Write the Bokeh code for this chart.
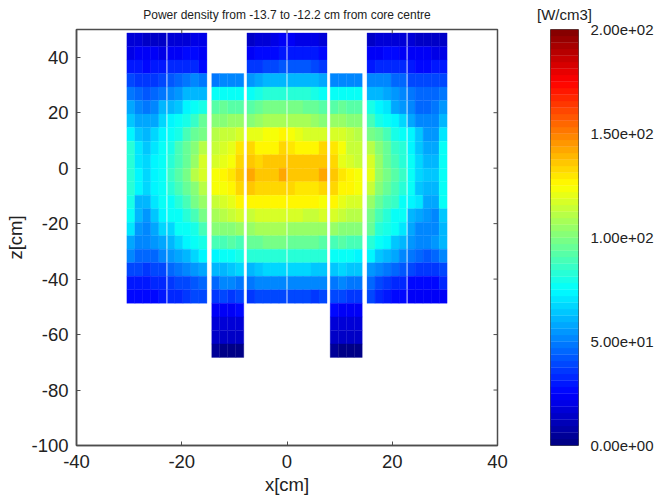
from bokeh.plotting import figure
from bokeh.layouts import row
from bokeh.models import (ColumnDataSource, LinearColorMapper, FixedTicker, LinearAxis,
                          PrintfTickFormatter, Range1d, Title)
from bokeh.embed import file_html
from bokeh.resources import INLINE
import numpy as np

# Power density [W/cm3], rows top to bottom, columns left to right
left_block = [
 [16,16,15,15,15,18,18,18,19,19],
 [21,22,22,22,21,23,24,26,26,24],
 [29,30,27,30,31,32,34,34,33,28],
 [38,37,36,37,38,42,44,48,50,48],
 [48,46,42,44,48,52,56,60,62,60],
 [58,50,48,52,60,60,65,72,76,80],
 [65,58,58,58,66,72,75,80,85,95],
 [72,64,62,68,72,76,80,88,94,98],
 [82,70,64,70,75,80,88,94,100,112],
 [84,71,66,72,76,83,90,95,106,116],
 [84,72,67,72,78,85,92,98,110,118],
 [84,72,68,72,77,83,90,96,103,112],
 [80,62,60,70,75,78,83,90,98,106],
 [75,60,54,64,72,75,78,83,90,99],
 [70,56,52,58,68,66,75,76,80,90],
 [58,52,50,54,58,60,66,72,76,80],
 [50,46,44,46,50,54,58,62,68,72],
 [40,38,36,38,40,44,48,50,56,58],
 [31,30,29,32,34,36,38,40,42,46],
 [25,26,26,27,30,32,33,35,38,40],
]
center_block = [
 [15,17,18,20,22,22,21,21,20,17],
 [24,26,27,28,29,30,30,30,30,25],
 [36,36,38,40,41,42,42,42,38,36],
 [56,58,60,62,62,62,62,62,60,58],
 [78,80,82,82,82,82,82,82,80,78],
 [92,95,98,98,98,98,98,96,95,92],
 [102,106,108,108,108,108,108,108,106,102],
 [120,120,122,124,125,122,120,118,116,118],
 [133,128,128,127,132,130,127,127,128,133],
 [136,133,137,137,137,137,137,137,136,135],
 [141,136,136,136,141,137,137,137,136,141],
 [136,132,134,133,132,132,130,130,130,133],
 [127,125,125,125,127,127,126,125,125,124],
 [114,116,116,116,118,118,116,114,114,116],
 [106,107,108,107,107,106,106,106,106,106],
 [94,96,97,98,98,96,96,96,94,92],
 [82,82,84,84,84,82,82,82,84,84],
 [62,65,66,66,68,66,66,66,64,64],
 [48,50,50,50,50,50,50,50,50,50],
 [36,38,38,38,40,40,38,38,36,38],
]
right_block = [
 [14,16,17,17,17,16,15,14,13,13],
 [24,24,25,25,24,23,22,22,21,21],
 [30,33,34,34,33,30,28,28,30,30],
 [50,52,50,46,44,40,38,38,38,38],
 [60,62,58,56,52,48,46,44,44,48],
 [80,74,70,58,56,52,46,44,47,55],
 [90,80,75,72,68,58,52,50,52,62],
 [98,94,88,80,75,72,64,56,56,71],
 [110,100,96,85,83,74,64,58,58,76],
 [116,104,96,90,83,76,68,62,62,78],
 [119,106,98,92,85,75,68,64,64,78],
 [114,100,94,90,83,75,64,60,62,78],
 [106,96,90,85,78,72,71,58,58,76],
 [98,88,83,77,75,62,58,56,50,65],
 [94,83,80,75,70,58,52,50,50,62],
 [84,76,74,64,60,54,50,50,54,60],
 [72,64,60,58,52,48,44,42,44,52],
 [56,50,48,46,42,38,36,36,36,40],
 [44,38,36,34,32,28,28,26,28,32],
 [38,32,30,28,26,24,24,24,24,24],
]
short_left = [
 [48,50,50,50],[76,78,78,76],[92,94,92,92],[100,102,104,104],[112,113,115,118],
 [115,117,120,130],[116,119,122,134],[124,125,130,137],[122,123,126,133],[115,116,119,127],
 [108,110,114,118],[100,102,103,104],[88,90,92,90],[74,75,76,80],[62,62,64,66],
 [46,50,50,48],[36,38,36,38],[22,22,23,26],[18,18,18,18],[14,14,14,14],[4,3,3,3],
]
short_right = [
 [52,50,50,50],[76,78,76,76],[92,94,92,92],[106,104,102,100],[118,116,113,110],
 [131,122,115,113],[134,121,116,115],[137,129,126,124],[132,127,125,122],[127,121,118,116],
 [116,114,112,110],[104,102,100,100],[90,92,90,88],[76,76,76,74],[64,66,64,64],
 [48,50,48,48],[38,38,36,36],[26,24,24,24],[18,18,18,18],[14,14,14,14],[4,3,3,3],
]
x_ticks = [-40, -20, 0, 20, 40]
z_ticks = [-100, -80, -60, -40, -20, 0, 20, 40]
bar_ticks = [0, 50, 100, 150, 200]
bar_labels = ["0.00e+00", "5.00e+01", "1.00e+02", "1.50e+02", "2.00e+02"]

# geometry
CELL_W, CELL_H, Z_TOP = 1.5216, 4.875, 48.75
GAP = 0.22


def jet(n):
    t = (np.arange(n) + 0.5) / n
    def ch(c):
        return np.clip(1.5 - np.abs(4 * t - c), 0, 1)
    r, g, b = ch(3), ch(2), ch(1)
    return ["#%02x%02x%02x" % (int(a*255), int(d*255), int(e*255)) for a, d, e in zip(r, g, b)]


palette = jet(64)
mapper = LinearColorMapper(palette=palette, low=0, high=200)

frames = []
def add_block(table, x_start, z_start, split=None):
    t = np.array(table, dtype=float)
    nrow, ncol = t.shape
    for i in range(nrow):
        for j in range(ncol):
            xl = x_start + j * CELL_W
            xr = xl + CELL_W
            if split is not None and j == split - 1:
                xr -= GAP / 2
            if split is not None and j == split:
                xl += GAP / 2
            frames.append((xl, xr, z_start - (i + 1) * CELL_H, z_start - i * CELL_H, t[i, j]))


add_block(left_block, -30.43, Z_TOP, 5)
add_block(center_block, -7.61, Z_TOP, 5)
add_block(right_block, 15.21, Z_TOP, 5)
add_block(short_left, -14.30, Z_TOP - 3 * CELL_H)
add_block(short_right, 8.21, Z_TOP - 3 * CELL_H)
a = np.array(frames)
src = ColumnDataSource(dict(l=a[:, 0], r=a[:, 1], b=a[:, 2], t=a[:, 3], v=a[:, 4]))

GREY = "#4d4d4d"
FONT = "Liberation Sans"
TXT = "#222222"
p = figure(width=515, height=500, x_range=Range1d(-40, 40),
           y_range=Range1d(-100, 50), output_backend="svg", toolbar_location=None,
           min_border_left=76, min_border_top=29, min_border_bottom=55, min_border_right=18,
           background_fill_color="white", border_fill_color="white", outline_line_color=GREY,
           outline_line_width=1.5)
p.grid.visible = False
p.quad(left="l", right="r", bottom="b", top="t", source=src,
       fill_color={"field": "v", "transform": mapper}, line_color={"field": "v", "transform": mapper},
       line_width=0.3)

p.title = Title(text="Power density from -13.7 to -12.2 cm from core centre", align="center",
                vertical_align="top", text_font=FONT, text_font_size="12px", text_font_style="normal",
                text_color=TXT, standoff=12)


def style(ax, ticks):
    ax.ticker = FixedTicker(ticks=ticks)
    ax.formatter = PrintfTickFormatter(format="%d")
    ax.major_tick_in = 4
    ax.major_tick_out = 0
    ax.minor_tick_line_color = None
    ax.axis_line_color = GREY
    ax.axis_line_width = 1.5
    ax.major_tick_line_color = GREY
    ax.major_label_text_font = FONT
    ax.major_label_text_font_size = "18.5px"
    ax.major_label_text_color = TXT
    ax.axis_label_text_font = FONT
    ax.axis_label_text_font_size = "18.5px"
    ax.axis_label_text_font_style = "normal"
    ax.axis_label_text_color = TXT


style(p.xaxis[0], x_ticks)
style(p.yaxis[0], z_ticks)
p.xaxis[0].axis_label = "x[cm]"
p.yaxis[0].axis_label = "z[cm]"
p.xaxis[0].major_label_standoff = 9
p.yaxis[0].major_label_standoff = 8
p.xaxis[0].axis_label_standoff = 3
p.yaxis[0].axis_label_standoff = 2

# tick marks on the top and right edges of the frame
p.segment(x_ticks[1:-1], [50] * 3, x_ticks[1:-1], [50 - 1.44] * 3, line_color=GREY, line_width=1)
p.segment([40] * 6, z_ticks[1:-1], [40 - 0.76] * 6, z_ticks[1:-1], line_color=GREY, line_width=1)

# colour scale: one band for each palette entry
edges = np.linspace(0, 200, len(palette) + 1)
bar = figure(width=141, height=500, x_range=Range1d(0, 1), y_range=Range1d(0, 200),
             output_backend="svg", toolbar_location=None,
             min_border_left=35, min_border_right=74, min_border_top=29, min_border_bottom=55,
             background_fill_color="white", border_fill_color="white", outline_line_color=GREY,
             outline_line_width=1)
bar.grid.visible = False
bar.xaxis.visible = False
bar.yaxis.visible = False
bar.quad(left=0, right=1, bottom=edges[:-1], top=edges[1:], fill_color=palette, line_color=palette, line_width=0.3)
bar_axis = LinearAxis(ticker=FixedTicker(ticks=bar_ticks), major_label_overrides=dict(zip(bar_ticks, bar_labels)),
                      major_tick_line_color=None, minor_tick_line_color=None, axis_line_color=None,
                      major_label_text_font=FONT, major_label_text_font_size="15px",
                      major_label_text_color=TXT, major_label_standoff=6)
bar.add_layout(bar_axis, "right")
bar.title = Title(text="[W/cm3]", align="center", vertical_align="top", text_font=FONT, text_font_size="15px",
                  text_font_style="normal", text_color=TXT, standoff=9)

open("out.html", "w").write(file_html(row(p, bar, spacing=0), INLINE))
